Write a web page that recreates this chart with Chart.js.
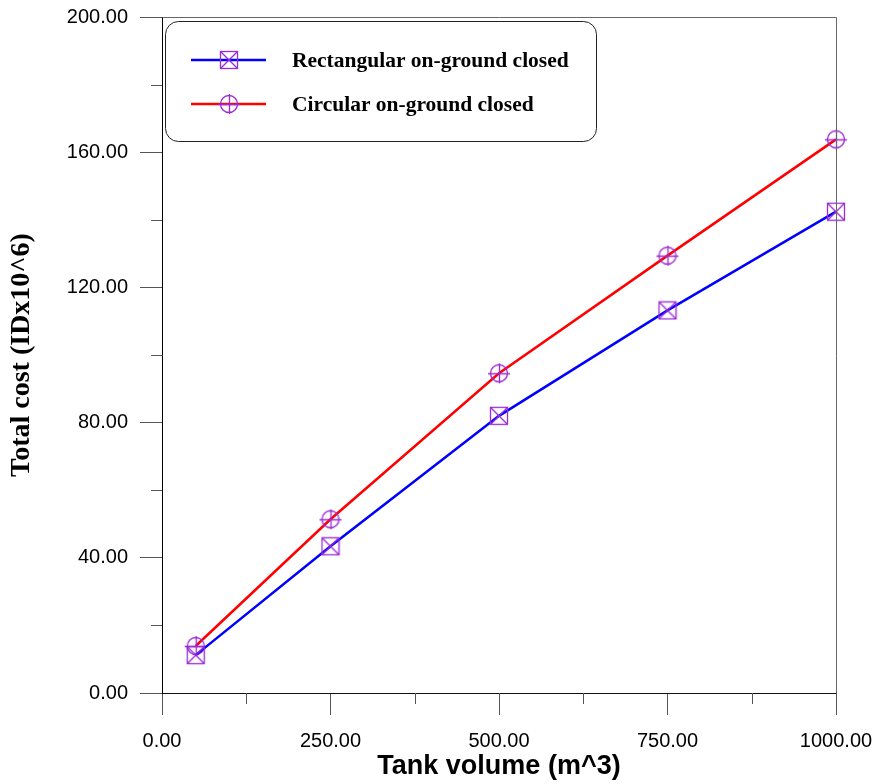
<!DOCTYPE html>
<html>
<head>
<meta charset="utf-8">
<script src="https://cdn.jsdelivr.net/npm/chart.js@4/dist/chart.umd.min.js"></script>
<style>
  html, body { margin: 0; padding: 0; background: #fff; }
  #wrap { width: 874px; height: 784px; }
</style>
</head>
<body>
<div id="wrap"><canvas id="c" width="874" height="784"></canvas></div>
<script>
// ---- data ----
const volumes = [50, 250, 500, 750, 1000];
const rectangularCost = [11.2, 43.4, 82.0, 113.2, 142.4];
const circularCost = [13.9, 51.4, 94.6, 129.4, 163.8];
const seriesLabels = ['Rectangular on-ground closed', 'Circular on-ground closed'];
const xTitle = 'Tank volume (m^3)';
const yTitle = 'Total cost (IDx10^6)';
const xMajorTicks = [0, 250, 500, 750, 1000];
const xMinorTicks = [125, 375, 625, 875];
const yMajorTicks = [0, 40, 80, 120, 160, 200];
const yMinorTicks = [20, 60, 100, 140, 180];

const markerColor = '#9a2bd6';

function squareMarker() {
  const c = document.createElement('canvas');
  c.width = 20; c.height = 20;
  const g = c.getContext('2d');
  g.strokeStyle = markerColor; g.lineWidth = 1.3;
  g.strokeRect(1.5, 1.5, 17, 17);
  g.beginPath();
  g.moveTo(1.5, 1.5); g.lineTo(18.5, 18.5);
  g.moveTo(18.5, 1.5); g.lineTo(1.5, 18.5);
  g.stroke();
  return c;
}
function circleMarker() {
  const c = document.createElement('canvas');
  c.width = 24; c.height = 24;
  const g = c.getContext('2d');
  g.strokeStyle = markerColor; g.lineWidth = 1.3;
  g.beginPath(); g.arc(12, 12, 8.5, 0, Math.PI * 2); g.stroke();
  g.beginPath();
  g.moveTo(1, 12.5); g.lineTo(23, 12.5);
  g.moveTo(12.5, 2); g.lineTo(12.5, 22);
  g.stroke();
  return c;
}
const sqM = squareMarker();
const ciM = circleMarker();

function pts(xs, ys) { return xs.map((x, i) => ({ x: x, y: ys[i] })); }

function zeroPad(scale) {
  scale.paddingTop = 0; scale.paddingBottom = 0;
  scale.paddingLeft = 0; scale.paddingRight = 0;
}

const framePlugin = {
  id: 'frame',
  afterDraw(chart) {
    const ctx = chart.ctx;
    const a = chart.chartArea;
    const xs = chart.scales.x, ys = chart.scales.y;
    ctx.save();
    // top & right frame
    ctx.strokeStyle = '#666'; ctx.lineWidth = 1;
    ctx.beginPath();
    ctx.moveTo(Math.round(a.left) + 0.5, Math.round(a.top) + 0.5);
    ctx.lineTo(Math.round(a.right) + 0.5, Math.round(a.top) + 0.5);
    ctx.lineTo(Math.round(a.right) + 0.5, Math.round(a.bottom) + 0.5);
    ctx.stroke();
    // minor ticks
    ctx.strokeStyle = '#555';
    ctx.beginPath();
    xMinorTicks.forEach(v => {
      const px = Math.round(xs.getPixelForValue(v)) + 0.5;
      ctx.moveTo(px, a.bottom); ctx.lineTo(px, a.bottom + 11);
    });
    yMinorTicks.forEach(v => {
      const py = Math.round(ys.getPixelForValue(v)) + 0.5;
      ctx.moveTo(a.left - 11, py); ctx.lineTo(a.left, py);
    });
    ctx.stroke();

    // legend box
    const bx = 165.5, by = 21.5, bw = 431, bh = 120, r = 13;
    ctx.strokeStyle = '#222'; ctx.lineWidth = 1;
    ctx.beginPath();
    ctx.roundRect(bx, by, bw, bh, r);
    ctx.fillStyle = '#fff';
    ctx.fill();
    ctx.stroke();
    const rows = [60, 104];
    chart.data.datasets.forEach((ds, i) => {
      const y = rows[i];
      ctx.strokeStyle = ds.borderColor; ctx.lineWidth = 2.5;
      ctx.beginPath(); ctx.moveTo(191, y); ctx.lineTo(266, y); ctx.stroke();
      const img = ds.pointStyle;
      ctx.drawImage(img, 229 - img.width / 2, y - img.height / 2);
      ctx.fillStyle = '#000';
      ctx.font = 'bold 21.5px "Liberation Serif", "Times New Roman", serif';
      ctx.textBaseline = 'middle';
      ctx.textAlign = 'left';
      ctx.fillText(ds.label, 292, y + 1);
    });
    ctx.restore();
  }
};

const tickFont = { family: '"Liberation Sans", Arial, sans-serif', size: 20 };

new Chart(document.getElementById('c'), {
  type: 'scatter',
  data: {
    datasets: [
      {
        label: seriesLabels[0],
        data: pts(volumes, rectangularCost),
        showLine: true,
        clip: false,
        borderColor: '#0000ff',
        backgroundColor: '#0000ff',
        borderWidth: 2.5,
        pointStyle: sqM,
        pointRadius: 9,
        pointHoverRadius: 9,
        tension: 0
      },
      {
        label: seriesLabels[1],
        data: pts(volumes, circularCost),
        showLine: true,
        clip: false,
        borderColor: '#ff0000',
        backgroundColor: '#ff0000',
        borderWidth: 2.5,
        pointStyle: ciM,
        pointRadius: 9,
        pointHoverRadius: 9,
        tension: 0
      }
    ]
  },
  options: {
    responsive: false,
    animation: false,
    devicePixelRatio: 1,
    layout: { padding: { top: 17, right: 38, left: 0, bottom: 0 } },
    plugins: { legend: { display: false }, tooltip: { enabled: false } },
    scales: {
      x: {
        type: 'linear',
        min: 0, max: 1000,
        afterBuildTicks(scale) { scale.ticks = xMajorTicks.map(v => ({ value: v })); },
        afterFit(scale) { scale.height = 91; zeroPad(scale); },
        ticks: {
          callback: v => Number(v).toFixed(2),
          font: tickFont, color: '#000', padding: 14, maxRotation: 0, autoSkip: false
        },
        grid: { drawOnChartArea: false, drawTicks: true, tickLength: 22, tickColor: '#555', color: '#555' },
        border: { color: '#111', width: 1 },
        title: {
          display: true, text: xTitle, color: '#000',
          font: { family: '"Liberation Sans", Arial, sans-serif', size: 27, weight: 'bold' },
          padding: { top: 0, bottom: 1 }
        }
      },
      y: {
        type: 'linear',
        min: 0, max: 200,
        afterBuildTicks(scale) { scale.ticks = yMajorTicks.map(v => ({ value: v })); },
        afterFit(scale) { scale.width = 162; zeroPad(scale); },
        ticks: {
          callback: v => Number(v).toFixed(2),
          font: tickFont, color: '#000', padding: 12, autoSkip: false
        },
        grid: { drawOnChartArea: false, drawTicks: true, tickLength: 22, tickColor: '#555', color: '#555' },
        border: { color: '#000', width: 1 },
        title: {
          display: true, text: yTitle, color: '#000',
          font: { family: '"Liberation Serif", "Times New Roman", serif', size: 28, weight: 'bold' },
          padding: { top: 5, bottom: 0 }
        }
      }
    }
  },
  plugins: [framePlugin]
});
</script>
</body>
</html>
